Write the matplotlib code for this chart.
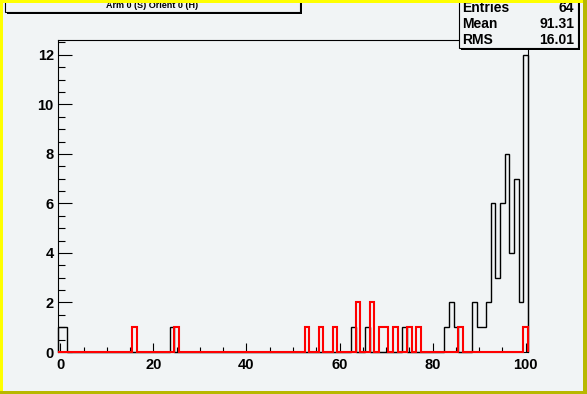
import numpy as np
import matplotlib
matplotlib.use("Agg")
import matplotlib.pyplot as plt
from matplotlib.patches import Rectangle

#Histogram contents (bin centre -> count)
black_bins = [0, 1, 24, 63, 66, 74, 83, 84, 85, 89, 90, 91, 92, 93, 94, 95, 96, 97, 98, 99, 100]
black_counts = [1, 1, 1, 1, 1, 1, 1, 2, 1, 2, 1, 1, 2, 6, 3, 6, 8, 4, 7, 2, 12]
red_bins = [16, 25, 53, 56, 59, 64, 67, 69, 70, 72, 75, 77, 86, 100]
red_counts = [1, 1, 1, 1, 1, 2, 2, 1, 1, 1, 1, 1, 1, 1]

title = "Arm 0 (S) Orient 0 (H)"
stat_names = ["Entries", "Mean", "RMS"]
stat_values = ["64", "91.31", "16.01"]

#Canvas geometry in pixels
W, H = 587, 394
BG = "#f1f4f5"
FONT = "Liberation Sans"

edges = np.arange(102) - 0.5
black = np.zeros(101)
np.add.at(black, black_bins, black_counts)
red = np.zeros(101)
np.add.at(red, red_bins, red_counts)

fig = plt.figure(figsize=(W / 100, H / 100), dpi=100, facecolor=BG)

def px_rect(x0, y0, x1, y1, **kw):
    #rectangle given in pixel coords (origin top left)
    r = Rectangle((x0 / W, 1 - y1 / H), (x1 - x0) / W, (y1 - y0) / H,
                  transform=fig.transFigure, **kw)
    fig.patches.append(r)
    return r

ax = fig.add_axes([58 / W, 1 - 352 / H, (528 - 58) / W, (352 - 40) / H])
ax.set_facecolor(BG)
ax.stairs(black, edges, color="black", linewidth=1.0, clip_on=False, zorder=3)
ax.stairs(red, edges, color="red", linewidth=1.5, clip_on=False, zorder=4)

ax.set_xlim(-0.5, 100.5)
ax.set_ylim(0, 12.6)
ax.set_xticks(np.arange(0, 101, 20))
ax.set_xticks(np.arange(0, 101, 5), minor=True)
ax.set_yticks(np.arange(0, 13, 2))
ax.set_yticks(np.arange(0, 12.6, 0.5), minor=True)
ax.tick_params(axis="x", which="major", direction="in", length=6.5, width=0.8, pad=4.5)
ax.tick_params(axis="x", which="minor", direction="in", length=3.6, width=0.8)
ax.tick_params(axis="y", which="major", direction="in", length=10, width=0.8, pad=3)
ax.tick_params(axis="y", which="minor", direction="in", length=5, width=0.8)
for lab in ax.get_xticklabels() + ax.get_yticklabels():
    lab.set_fontfamily(FONT)
    lab.set_fontweight("bold")
    lab.set_fontsize(10.5)
for s in ax.spines.values():
    s.set_linewidth(0.8)

#Title box with shadow
px_rect(7, -2, 302, 14, facecolor="black", edgecolor="none", zorder=5)
px_rect(5, -2, 300, 12, facecolor=BG, edgecolor="black", linewidth=0.8, zorder=6)
fig.text(152 / W, 1 - 6 / H, title, ha="center", va="center", fontsize=6.5,
         fontweight="bold", family=FONT, zorder=7)

#Stats box with shadow
px_rect(461, -2, 580, 50, facecolor="black", edgecolor="none", zorder=5)
px_rect(459, -2, 578, 48, facecolor=BG, edgecolor="black", linewidth=0.8, zorder=6)
for i, (n, v) in enumerate(zip(stat_names, stat_values)):
    y = 1 - (7.5 + 16.5 * i) / H
    fig.text(462 / W, y, n, ha="left", va="center", fontsize=10, fontweight="bold",
             family=FONT, zorder=7)
    fig.text(574 / W, y, v, ha="right", va="center", fontsize=10, fontweight="bold",
             family=FONT, zorder=7)

#Canvas bevel border
px_rect(0, 0, W, 3, facecolor="#ffff00", edgecolor="none", zorder=8)
px_rect(0, 0, 3, H, facecolor="#ffff00", edgecolor="none", zorder=8)
px_rect(583, 0, W, H, facecolor="#b8b800", edgecolor="none", zorder=8)
px_rect(0, 391, W, H, facecolor="#b8b800", edgecolor="none", zorder=8)

fig.savefig("out.png", dpi=100, facecolor=BG)
